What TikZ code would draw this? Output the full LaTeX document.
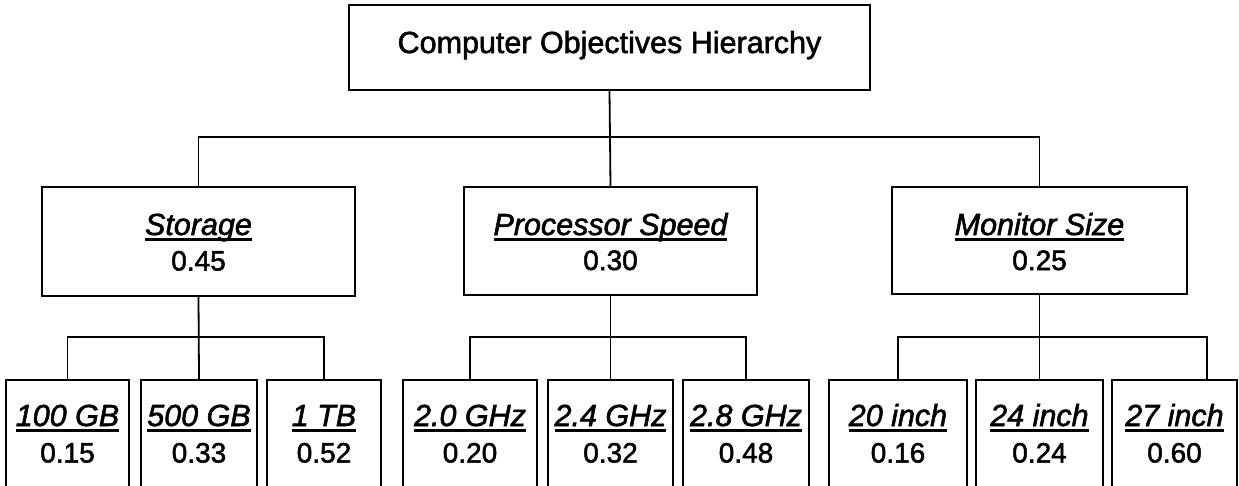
\documentclass[tikz,border=0pt]{standalone}
\usepackage{fontspec}
\setmainfont{Liberation Sans}[
  BoldFont=Liberation Sans,
  BoldItalicFont=Liberation Sans Italic,
  BoldFeatures={FakeBold=1.8},
  BoldItalicFeatures={FakeBold=1.8}]
\usetikzlibrary{calc}

% italic label with a solid underline under its full advance width
\newcommand{\ulabel}[1]{{\itshape\setbox0\hbox{#1}\rlap{\rule[-5.5pt]{\wd0}{2.6pt}}\box0}}

\tikzset{
  box/.style={draw, rectangle, line width=1.8pt, inner sep=0pt},
  link/.style={line width=1.8pt},
  headtext/.style={anchor=base, inner sep=0pt, font=\fontsize{30.5}{36}\selectfont\bfseries},
  labeltext/.style={anchor=base, inner sep=0pt, font=\fontsize{30.5}{36}\selectfont\bfseries},
  weighttext/.style={anchor=base, inner sep=0pt, font=\fontsize{28}{34}\selectfont\bfseries},
}

\begin{document}
\begin{tikzpicture}[x=1pt, y=-1pt]
\useasboundingbox (0,0) rectangle (1239,485);
\clip (0,0) rectangle (1239,485);

% root
\node[box, minimum width=521pt, minimum height=85pt] (root) at (609.5,47.5) {};
\node[headtext] (rootT) at (609.5,53) {Computer Objectives Hierarchy};

% criteria
\node[box, minimum width=313pt, minimum height=109pt] (st) at (198.5,241.5) {};
\node[box, minimum width=293pt, minimum height=108pt] (pr) at (610.5,241) {};
\node[box, minimum width=295pt, minimum height=107pt] (mo) at (1039.5,240.5) {};

\node[labeltext]  (stN) at (198.5,235) {\ulabel{Storage}};
\node[weighttext] (stW) at (198.5,270.5) {0.45};
\node[labeltext]  (prN) at (610.5,235) {\ulabel{Processor Speed}};
\node[weighttext] (prW) at (610.5,270) {0.30};
\node[labeltext]  (moN) at (1039.5,235) {\ulabel{Monitor Size}};
\node[weighttext] (moW) at (1039.5,270) {0.25};

% alternatives (their lower edges run past the page)
\foreach \id/\l/\r/\lab/\w in {
    s1/6/129/100 GB/0.15, s2/141/257/500 GB/0.33, s3/267/381/1 TB/0.52,
    p1/403/537/2.0 GHz/0.20, p2/548/673/2.4 GHz/0.32, p3/683/809/2.8 GHz/0.48,
    m1/829/967/20 inch/0.16, m2/976/1103/24 inch/0.24, m3/1112/1237/27 inch/0.60}{
  \node[box, minimum width={\r-\l}, minimum height=140pt] (\id) at ({(\l+\r)/2},450) {};
  \node[labeltext]  (\id N) at ({(\l+\r)/2},426) {\ulabel{\lab}};
  \node[weighttext] (\id W) at ({(\l+\r)/2},462.5) {\w};
}

% root to criteria
\draw[link] (root.south) -- (pr.north);
\draw[link] (st.north) -- ++(0,-49) -| (mo.north);

% criteria to alternatives
\draw[link] (st.south) -- (s2.north);
\draw[link] (s1.north) -- ++(0,-42) -| (s3.north);

\draw[link] (pr.south) -- (p2.north);
\draw[link] (p1.north) -- ++(0,-42) -| (p3.north);

\coordinate (m3top) at (1207,380);
\draw[link] (mo.south) -- (m2.north);
\draw[link] (m1.north) -- ++(0,-42) -| (m3top);
\end{tikzpicture}
\end{document}
